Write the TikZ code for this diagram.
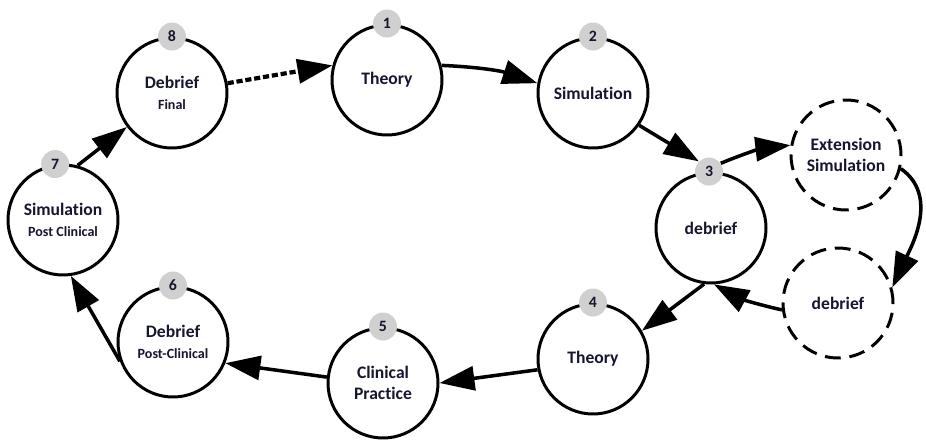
\documentclass[tikz,border=0pt]{standalone}
\usepackage{fontspec}
\setmainfont[Ligatures=NoCommon]{Carlito}
\usetikzlibrary{arrows.meta}
\definecolor{ink}{RGB}{22,22,48}
\definecolor{badgegray}{RGB}{208,208,208}
\newcommand{\sublabel}[1]{{\fontsize{8}{9}\selectfont #1}}
\tikzset{
  >={Triangle[length=7mm, width=4.8mm]},
  stage/.style ={circle, draw, line width=1.7pt, minimum size=22mm, inner sep=0pt, align=center,
                 font=\bfseries\fontsize{10}{12}\selectfont, text=ink, fill=white},
  extra/.style ={stage, dash pattern=on 9pt off 5pt},
  num/.style   ={circle, fill=badgegray, minimum size=5.6mm, inner sep=0pt,
                 font=\bfseries\fontsize{9}{10}\selectfont, text=ink},
  arr/.style   ={->, line width=2pt},
  dotarr/.style={arr, line width=2.4pt, dash pattern=on 3.5pt off 1.6pt}
}
\begin{document}
\begin{tikzpicture}[x=0.2mm, y=0.2mm]
\useasboundingbox (0,0) rectangle (926,439);
% main cycle
\node[stage] (n1) at (387,359) {Theory};
\node[stage] (n2) at (593,346) {Simulation};
\node[stage] (n3) at (711,211) {debrief};
\node[stage] (n4) at (593,80)  {Theory};
\node[stage] (n5) at (383,56)  {Clinical\\Practice};
\node[stage] (n6) at (173,97)  {Debrief\\\sublabel{Post-Clinical}};
\node[stage] (n7) at (63,219)  {Simulation\\\sublabel{Post Clinical}};
\node[stage] (n8) at (172,346) {Debrief\\\sublabel{Final}};
% extension loop
\node[extra] (x1) at (846,284) {Extension\\Simulation};
\node[extra] (x2) at (838,136) {debrief};
% step numbers
\foreach \k/\a in {1/90,2/90,3/92,4/90,5/90,6/90,7/98,8/90}
  \node[num] (b\k) at (n\k.\a) {\k};
% connectors
\draw[dotarr] (n8.10) -- (n1.165);
\draw[arr] (n1.15) to[bend left=8] (n2.170);
\draw[arr] (n2.-35) -- (b3.135);
\draw[arr] (b3.35) to[bend left=8] (x1.170);
\draw[arr] (x1.-14) to[out=-35, in=65] (x2.16);
\draw[arr] (x2.187) to[bend left=8] (n3.-87);
\draw[arr] (n3.-97) -- (n4.30);
\draw[arr] (n4.191) -- (n5.east);
\draw[arr] (n5.174) -- (n6.-22);
\draw[arr] (n6.200) -- (n7.-82);
\draw[arr] (n7.75) -- (n8.217);
\end{tikzpicture}
\end{document}
